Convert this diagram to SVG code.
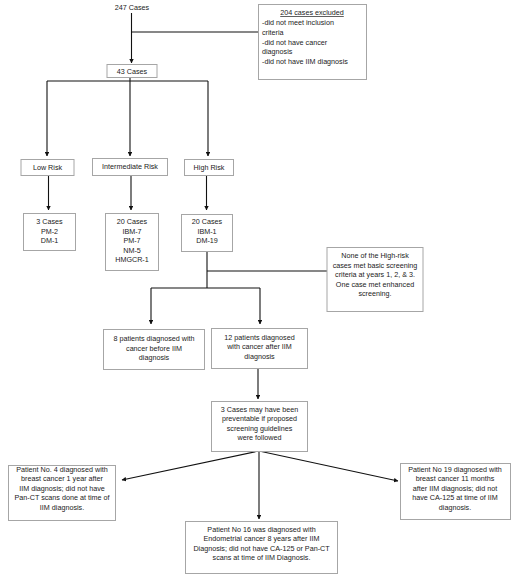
<svg xmlns="http://www.w3.org/2000/svg" width="511" height="579" viewBox="0 0 511 579">
<defs>
<style>
.box{fill:#fff;stroke:#a6a6a6;stroke-width:1}
.t{font-family:"Liberation Sans",Arial,sans-serif;font-size:7.2px;fill:#222;text-anchor:middle}
.tl{font-family:"Liberation Sans",Arial,sans-serif;font-size:7.2px;fill:#222}
.c{fill:none;stroke:#111;stroke-width:1.1}
</style>
<marker id="ah" viewBox="0 0 6 6" refX="5.5" refY="3" markerWidth="4.5" markerHeight="4.5" orient="auto" markerUnits="userSpaceOnUse">
<path d="M0,0 L6,3 L0,6 z" fill="#111"/>
</marker>
</defs>
<rect width="511" height="579" fill="#fff"/>
<g id="connectors">
<path class="c" d="M131.5,13 V63" marker-end="url(#ah)"/>
<path class="c" d="M131.5,32 H258"/>
<path class="c" d="M130,77 V156" marker-end="url(#ah)"/>
<path class="c" d="M47,81 H208"/>
<path class="c" d="M47,81 V156" marker-end="url(#ah)"/>
<path class="c" d="M208,81 V156" marker-end="url(#ah)"/>
<path class="c" d="M48.5,175 V210" marker-end="url(#ah)"/>
<path class="c" d="M131,175 V210" marker-end="url(#ah)"/>
<path class="c" d="M206.5,175 V210" marker-end="url(#ah)"/>
<path class="c" d="M207,251 V288"/>
<path class="c" d="M207,271 H327"/>
<path class="c" d="M151,288 H260"/>
<path class="c" d="M151,288 V324" marker-end="url(#ah)"/>
<path class="c" d="M260,288 V324" marker-end="url(#ah)"/>
<path class="c" d="M258,368 V399" marker-end="url(#ah)"/>
<path class="c" d="M259,451 L122,480" marker-end="url(#ah)"/>
<path class="c" d="M259,451 L398,481" marker-end="url(#ah)"/>
<path class="c" d="M259,451 V519" marker-end="url(#ah)"/>
</g>
<g id="n247">
<text class="t" x="132" y="10">247 Cases</text>
</g>
<g id="excluded">
<rect class="box" x="258.5" y="4.5" width="108" height="75"/>
<text class="t" x="312" y="15" text-decoration="underline">204 cases excluded</text>
<text class="tl" x="262" y="25">-did not meet inclusion</text>
<text class="tl" x="262" y="34.5">criteria</text>
<text class="tl" x="262" y="44.5">-did not have cancer</text>
<text class="tl" x="262" y="54">diagnosis</text>
<text class="tl" x="262" y="64">-did not have IIM diagnosis</text>
</g>
<g id="n43">
<rect class="box" x="107" y="64.5" width="50" height="13"/>
<text class="t" x="132" y="74">43 Cases</text>
</g>
<g id="low">
<rect class="box" x="21" y="159.5" width="53" height="16"/>
<text class="t" x="47.5" y="170">Low Risk</text>
</g>
<g id="inter">
<rect class="box" x="92.5" y="158.5" width="75" height="17"/>
<text class="t" x="130" y="169">Intermediate Risk</text>
</g>
<g id="high">
<rect class="box" x="184.5" y="159.5" width="49" height="16"/>
<text class="t" x="209" y="170">High Risk</text>
</g>
<g id="lowcases">
<rect class="box" x="23.5" y="213.5" width="52" height="37"/>
<text class="t" x="49.5" y="224">3 Cases</text>
<text class="t" x="49.5" y="233.5">PM-2</text>
<text class="t" x="49.5" y="243">DM-1</text>
</g>
<g id="intercases">
<rect class="box" x="105.5" y="213.5" width="53" height="57"/>
<text class="t" x="132" y="224">20 Cases</text>
<text class="t" x="132" y="233.5">IBM-7</text>
<text class="t" x="132" y="243">PM-7</text>
<text class="t" x="132" y="252.5">NM-5</text>
<text class="t" x="132" y="262">HMGCR-1</text>
</g>
<g id="highcases">
<rect class="box" x="181.5" y="214.5" width="51" height="37"/>
<text class="t" x="207" y="224">20 Cases</text>
<text class="t" x="207" y="233.5">IBM-1</text>
<text class="t" x="207" y="243">DM-19</text>
</g>
<g id="note">
<rect class="box" x="327" y="247.5" width="96" height="64"/>
<text class="t" x="375" y="258">None of the High-risk</text>
<text class="t" x="375" y="267.5">cases met basic screening</text>
<text class="t" x="375" y="277">criteria at years 1, 2, &amp; 3.</text>
<text class="t" x="375" y="286.5">One case met enhanced</text>
<text class="t" x="375" y="296">screening.</text>
</g>
<g id="before">
<rect class="box" x="103.5" y="329.5" width="101" height="40"/>
<text class="t" x="154" y="341">8 patients diagnosed with</text>
<text class="t" x="154" y="350.5">cancer before IIM</text>
<text class="t" x="154" y="360">diagnosis</text>
</g>
<g id="after">
<rect class="box" x="211.5" y="328.5" width="96" height="40"/>
<text class="t" x="259.5" y="339.5">12 patients diagnosed</text>
<text class="t" x="259.5" y="349">with cancer after IIM</text>
<text class="t" x="259.5" y="358.5">diagnosis</text>
</g>
<g id="preventable">
<rect class="box" x="211.5" y="401.5" width="96" height="50"/>
<text class="t" x="259.5" y="411.5">3 Cases may have been</text>
<text class="t" x="259.5" y="421">preventable if proposed</text>
<text class="t" x="259.5" y="430.5">screening guidelines</text>
<text class="t" x="259.5" y="440">were followed</text>
</g>
<g id="p4">
<rect class="box" x="8.5" y="465.5" width="107" height="55"/>
<text class="t" x="62" y="471.5">Patient No. 4 diagnosed with</text>
<text class="t" x="62" y="481">breast cancer 1 year after</text>
<text class="t" x="62" y="490.5">IIM diagnosis; did not have</text>
<text class="t" x="62" y="500">Pan-CT scans done at time of</text>
<text class="t" x="62" y="509.5">IIM diagnosis.</text>
</g>
<g id="p19">
<rect class="box" x="400.5" y="463.5" width="110" height="56"/>
<text class="t" x="455" y="471.5">Patient No 19 diagnosed with</text>
<text class="t" x="455" y="481">breast cancer 11 months</text>
<text class="t" x="455" y="490.5">after IIM diagnosis; did not</text>
<text class="t" x="455" y="500">have CA-125 at time of IIM</text>
<text class="t" x="455" y="509.5">diagnosis.</text>
</g>
<g id="p16">
<rect class="box" x="185.5" y="521.5" width="152" height="52"/>
<text class="t" x="261.5" y="531.5">Patient No 16 was diagnosed with</text>
<text class="t" x="261.5" y="541">Endometrial cancer 8 years after IIM</text>
<text class="t" x="261.5" y="550.5">Diagnosis; did not have CA-125 or Pan-CT</text>
<text class="t" x="261.5" y="560">scans at time of IIM Diagnosis.</text>
</g>
</svg>
